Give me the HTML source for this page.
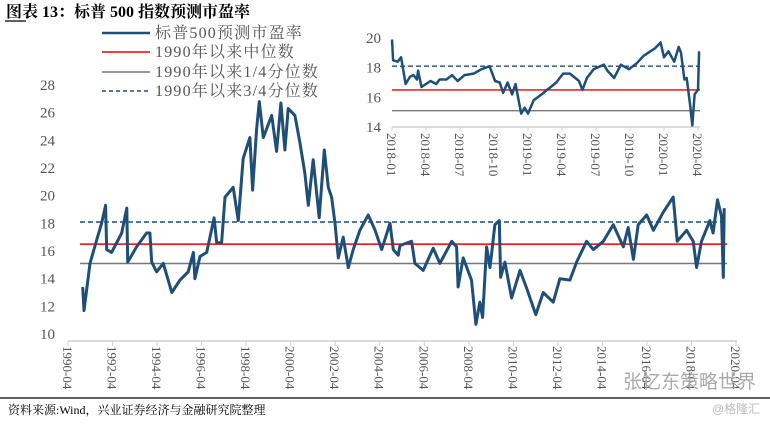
<!DOCTYPE html>
<html><head><meta charset="utf-8"><style>
body{margin:0;background:#fff;width:770px;height:419px;overflow:hidden;font-family:"Liberation Serif","Noto Serif CJK SC",serif}
</style></head><body>
<svg id="c" width="770" height="419" xmlns="http://www.w3.org/2000/svg">
<text x="6" y="17" font-size="16" font-weight="bold" fill="#000" font-family="Liberation Serif, Noto Serif CJK SC, serif">图表 13：标普 500 指数预测市盈率</text>
<line x1="5" y1="21" x2="26" y2="21" stroke="#000" stroke-width="1.2"/>
<g font-size="16" fill="#555" letter-spacing="1.2">
<line x1="102" y1="33" x2="150" y2="33" stroke="#1f4e79" stroke-width="2.5"/><text x="155" y="38">标普500预测市盈率</text>
<line x1="102" y1="52" x2="150" y2="52" stroke="#e00" stroke-width="1.5"/><text x="155" y="57">1990年以来中位数</text>
<line x1="102" y1="72" x2="150" y2="72" stroke="#777" stroke-width="1.5"/><text x="155" y="77">1990年以来1/4分位数</text>
<line x1="102" y1="91" x2="150" y2="91" stroke="#1f4e79" stroke-width="1.5" stroke-dasharray="4,3"/><text x="155" y="96">1990年以来3/4分位数</text>
</g>
<g id="main"></g><g id="inset"></g>
<line x1="0" y1="398" x2="770" y2="398" stroke="#000" stroke-width="1.2"/>
<text x="8" y="414" font-size="12" fill="#000">资料来源:Wind，兴业证券经济与金融研究院整理</text>
<text x="623" y="388" font-size="19" fill="#aaa" font-family="Liberation Sans, Noto Sans CJK SC, sans-serif">张忆东策略世界</text>
<text x="712" y="413" font-size="12" fill="#bbb" font-family="Liberation Sans, Noto Sans CJK SC, sans-serif">@格隆汇</text>
</svg>
<script>
const mainYears=[1990.91,1990.97,1991.24,1991.54,1991.76,1991.94,1991.99,1992.21,1992.66,1992.89,1992.93,1993.33,1993.78,1993.93,1994.01,1994.23,1994.53,1994.91,1995.28,1995.65,1995.88,1995.95,1996.18,1996.48,1996.81,1996.93,1997.15,1997.30,1997.67,1997.90,1998.12,1998.42,1998.54,1998.72,1998.84,1999.02,1999.40,1999.62,1999.81,1999.99,2000.14,2000.44,2000.67,2000.89,2001.04,2001.26,2001.53,2001.76,2001.94,2002.09,2002.24,2002.39,2002.61,2002.84,2003.06,2003.36,2003.73,2004.04,2004.34,2004.71,2004.86,2005.08,2005.16,2005.68,2005.83,2006.20,2006.65,2006.95,2007.48,2007.70,2007.77,2008.00,2008.37,2008.57,2008.75,2008.87,2009.05,2009.20,2009.42,2009.62,2009.68,2009.87,2010.17,2010.55,2010.85,2011.26,2011.59,2012.04,2012.34,2012.79,2013.09,2013.54,2013.84,2014.29,2014.74,2015.19,2015.41,2015.64,2015.86,2016.24,2016.54,2016.98,2017.43,2017.61,2018.03,2018.33,2018.48,2018.70,2019.08,2019.22,2019.42,2019.60,2019.68,2019.72];
const mainValues=[13.4,11.7,15.1,16.8,18.0,19.3,16.1,15.9,17.3,19.1,15.2,16.3,17.3,17.3,15.2,14.5,15.1,13.0,13.9,14.5,15.9,14.0,15.6,15.9,18.4,16.6,16.6,19.9,20.6,18.2,22.7,24.2,20.4,24.8,26.8,24.2,25.8,23.2,26.7,23.3,26.3,25.8,23.8,21.6,19.3,22.6,18.4,23.3,20.6,19.9,18.0,15.5,17.0,14.8,16.1,17.5,18.6,17.5,16.1,18.0,16.1,15.7,16.4,16.7,15.1,14.6,16.2,15.1,16.7,16.3,13.4,15.5,13.9,10.7,12.3,11.2,16.3,14.8,17.9,18.2,14.1,15.2,12.6,14.6,13.3,11.4,13.0,12.3,14.0,13.9,15.2,16.7,16.1,16.7,17.9,16.3,17.7,15.4,17.9,18.6,17.5,18.8,19.9,16.7,17.5,16.7,14.8,16.7,18.2,17.3,19.7,18.5,14.1,19.1];
const mainTickLabels=["1990-04","1992-04","1994-04","1996-04","1998-04","2000-04","2002-04","2004-04","2006-04","2008-04","2010-04","2012-04","2014-04","2016-04","2018-04","2020-04"];
const mainYTicks=[10,12,14,16,18,20,22,24,26,28];
const insetMonths=[0,0.1,0.5,0.8,1.2,1.6,1.9,2.2,2.3,2.6,3.0,3.4,3.9,4.2,4.8,5.3,5.8,6.4,7.2,7.9,8.6,9.1,9.5,9.8,10.2,10.6,10.9,11.4,11.7,12.0,12.5,13.2,14.0,14.5,15.1,15.7,16.5,16.8,17.2,17.8,18.4,18.7,19.0,19.6,20.2,20.9,21.6,22.2,22.8,23.2,23.7,24.0,24.4,24.9,25.3,25.5,25.8,26.0,26.3,26.5,26.7,27.0,27.1];
const insetValues=[19.9,18.5,18.4,18.7,16.9,17.4,17.5,17.2,17.8,16.7,16.9,17.1,16.9,17.2,17.2,17.5,17.1,17.5,17.6,17.9,18.1,17.1,17.0,16.3,17.0,16.2,16.9,14.9,15.3,14.9,15.8,16.2,16.7,17.0,17.6,17.6,17.1,16.5,17.3,17.9,18.1,18.2,17.8,17.3,18.2,17.9,18.3,18.8,19.1,19.3,19.7,18.7,19.1,18.4,19.4,19.0,17.2,17.3,15.5,14.1,16.2,16.5,19.1];
const insetTickLabels=["2018-01","2018-04","2018-07","2018-10","2019-01","2019-04","2019-07","2019-10","2020-01","2020-04"];
const insetYTicks=[14,16,18,20];
const refMedian=16.5, refQ1=15.1, refQ3=18.1;

const NS="http://www.w3.org/2000/svg";
function mk(p,t,a){const e=document.createElementNS(NS,t);for(const k in a)e.setAttribute(k,a[k]);p.appendChild(e);return e;}
const M=document.getElementById('main');
const mx=y=>68+(y-1990.25)*(736-68)/30, my=v=>334-(v-10)*(334-85)/18;
mk(M,'line',{x1:68,y1:341,x2:737,y2:341,stroke:'#d0d0d0','stroke-width':1.5});
mainTickLabels.forEach((l,i)=>{const x=68+i*(736-68)/15;
 mk(M,'line',{x1:x,y1:341,x2:x,y2:346,stroke:'#d0d0d0'});
 const t=mk(M,'text',{x:0,y:0,transform:`translate(${x-5},346) rotate(90)`,'font-size':13,fill:'#555'});t.textContent=l;
 
 });
mainYTicks.forEach(v=>{const t=mk(M,'text',{x:55,y:my(v)+5,'text-anchor':'end','font-size':15,fill:'#555'});t.textContent=v;
 
 });
[[refQ1,'#777','',1.5,'q1-line'],[refMedian,'#e00','',1.5,'median-line'],[refQ3,'#1f4e79','5,3',1.5,'q3-line']].forEach(r=>{
 const l=mk(M,'line',{x1:80,x2:727,y1:my(r[0]),y2:my(r[0]),stroke:r[1],'stroke-width':r[3],'stroke-dasharray':r[2]});
 
 });
const mp=mk(M,'polyline',{points:mainYears.map((y,i)=>mx(y).toFixed(1)+','+my(mainValues[i]).toFixed(1)).join(' '),fill:'none',stroke:'#1f4e79','stroke-width':3,'stroke-linejoin':'round'});


const I=document.getElementById('inset');
const ix=m=>392+m*(698-392)/27, iy=v=>127-(v-14)*(127-38)/6;
mk(I,'line',{x1:392,y1:127,x2:700,y2:127,stroke:'#d0d0d0','stroke-width':1.5});
insetTickLabels.forEach((l,i)=>{const x=ix(i*3);
 mk(I,'line',{x1:x,y1:127,x2:x,y2:131,stroke:'#d0d0d0'});
 const t=mk(I,'text',{x:0,y:0,transform:`translate(${x-5},133) rotate(90)`,'font-size':13,fill:'#555'});t.textContent=l;
 
 });
insetYTicks.forEach(v=>{const t=mk(I,'text',{x:381,y:iy(v)+5,'text-anchor':'end','font-size':15,fill:'#555'});t.textContent=v;
 
 });
[[refQ1,'#777',''],[refMedian,'#e00',''],[refQ3,'#1f4e79','5,3']].forEach(r=>{
 const l=mk(I,'line',{x1:392,x2:700,y1:iy(r[0]),y2:iy(r[0]),stroke:r[1],'stroke-width':1.3,'stroke-dasharray':r[2]});
 
 });
const ip=mk(I,'polyline',{points:insetMonths.map((m,i)=>ix(m).toFixed(1)+','+iy(insetValues[i]).toFixed(1)).join(' '),fill:'none',stroke:'#1f4e79','stroke-width':2.5,'stroke-linejoin':'round'});


</script>
</body></html>
